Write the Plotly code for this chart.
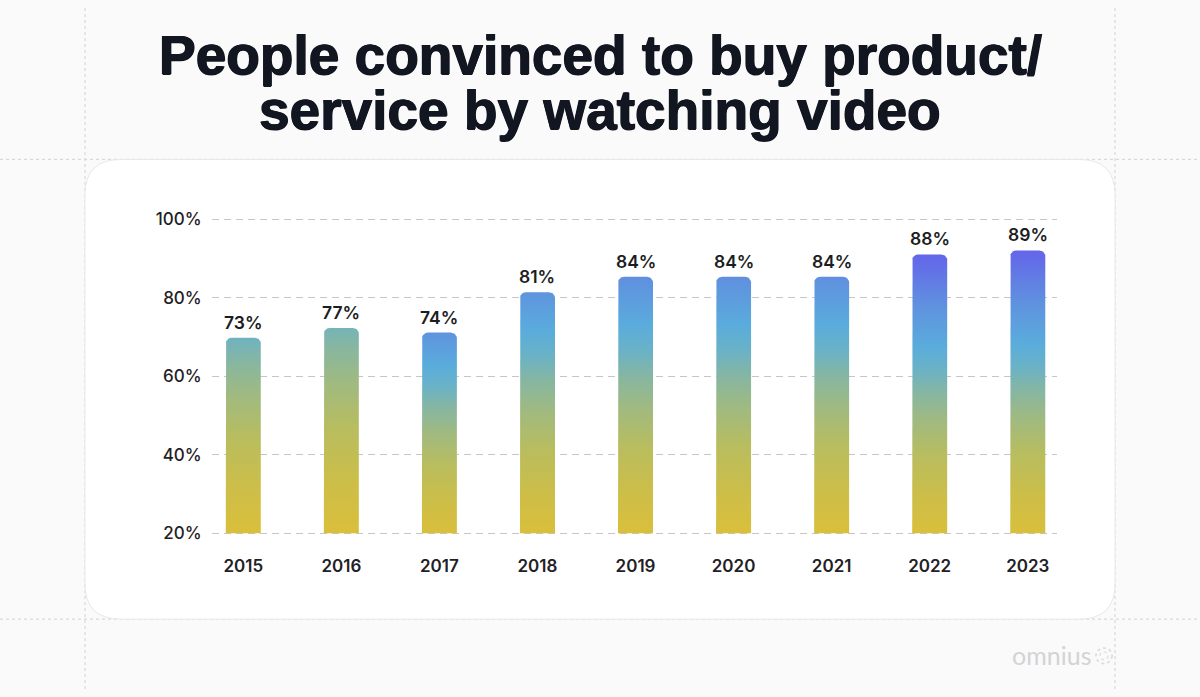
import numpy as np
import plotly.graph_objects as go

# ---------------- data ----------------
years = ["2015", "2016", "2017", "2018", "2019", "2020", "2021", "2022", "2023"]
labels_pct = [73, 77, 74, 81, 84, 84, 84, 88, 89]            # printed values
bar_heights = [69.8, 72.3, 71.1, 81.4, 85.3, 85.3, 85.3, 91.0, 92.0]  # heights as drawn on the axis
y_ticks = [20, 40, 60, 80, 100]
y_tick_text = ["20%", "40%", "60%", "80%", "100%"]

# ---------------- style ----------------
W, H = 1200, 697
BASE = 20
top_frac = [0.58, 0.56, 0.80, 0.80, 0.83, 0.83, 0.83, 1.0, 1.0]  # how far along the gradient each bar top reaches
colorscale = [
    [0.00, "#dcbf38"], [0.15, "#cdbe48"], [0.30, "#b8bd5f"], [0.42, "#a0ba80"],
    [0.52, "#86b6a2"], [0.60, "#6ab2c6"], [0.68, "#5aacdc"], [0.82, "#5f92df"],
    [1.00, "#6465ea"],
]
BAR_W = 0.357
X_RANGE = [-0.322, 8.295]
Y_RANGE = [19.6, 100.4]
PX_PER_Y = 4.021
Y20_PX = 537.7
PLOT_L, PLOT_R = 211.7, 1056.7
PLOT_B = Y20_PX + (20 - Y_RANGE[0]) * PX_PER_Y
PLOT_T = Y20_PX - (Y_RANGE[1] - 20) * PX_PER_Y
px_per_x = (PLOT_R - PLOT_L) / (X_RANGE[1] - X_RANGE[0])
R_PX = 6.0
rx, ry = R_PX / px_per_x, R_PX / PX_PER_Y


def px(x):
    return x / W


def py(y):
    return 1 - y / H


fig = go.Figure()

theta = np.linspace(0, np.pi / 2, 10)
for i, h in enumerate(bar_heights):
    x0, x1 = i - BAR_W / 2, i + BAR_W / 2
    la_x = x0 + rx - rx * np.cos(theta)
    la_y = h - ry + ry * np.sin(theta)
    ra_x = x1 - rx + rx * np.sin(theta)
    ra_y = h - ry + ry * np.cos(theta)
    xs = [x0] + list(la_x) + list(ra_x) + [x1, x0]
    ys = [BASE] + list(la_y) + list(ra_y) + [BASE, BASE]
    stop = BASE + (h - BASE) / top_frac[i]
    fig.add_trace(go.Scatter(
        x=xs, y=ys, mode="lines", fill="toself",
        line=dict(width=0, color="rgba(0,0,0,0)"),
        fillgradient=dict(type="vertical", colorscale=colorscale, start=BASE, stop=stop),
        hoverinfo="skip", showlegend=False,
    ))
    fig.add_annotation(
        x=i, y=h, xref="x", yref="y", text=f"{labels_pct[i]}%",
        showarrow=False, yanchor="bottom", yshift=3,
        font=dict(family="Inter", size=17.5, color="#1b1d22", weight=600),
    )

# ---------------- background, card, dotted guides ----------------
shapes = []
dot = dict(color="#d9d9dc", width=1.2, dash="dot")
for yy in [155, 625.5]:
    shapes.append(dict(type="line", xref="paper", yref="paper", x0=0, x1=1, y0=py(yy), y1=py(yy),
                       line=dot, layer="below"))
for xx in [85, 1115]:
    shapes.append(dict(type="line", xref="paper", yref="paper", x0=px(xx), x1=px(xx), y0=0, y1=1,
                       line=dot, layer="below"))

cx0, cx1, cy0, cy1, cr = 85, 1115, 155, 625.5, 36


def P(x, y):
    return f"{px(x):.5f},{py(y):.5f}"


card_path = (
    f"M {P(cx0 + cr, cy0)} L {P(cx1 - cr, cy0)} Q {P(cx1, cy0)} {P(cx1, cy0 + cr)} "
    f"L {P(cx1, cy1 - cr)} Q {P(cx1, cy1)} {P(cx1 - cr, cy1)} "
    f"L {P(cx0 + cr, cy1)} Q {P(cx0, cy1)} {P(cx0, cy1 - cr)} "
    f"L {P(cx0, cy0 + cr)} Q {P(cx0, cy0)} {P(cx0 + cr, cy0)} Z"
)
shapes.append(dict(type="path", xref="paper", yref="paper", path=card_path,
                   fillcolor="#ffffff", line=dict(color="#e8e8ea", width=1), layer="below"))

# watermark logo
shapes.append(dict(type="circle", xref="paper", yref="paper",
                   x0=px(1096), x1=px(1112), y0=py(671), y1=py(655),
                   line=dict(color="#dadada", width=1.6, dash="dot"), layer="above"))
shapes.append(dict(type="circle", xref="paper", yref="paper",
                   x0=px(1100), x1=px(1108), y0=py(667), y1=py(659),
                   line=dict(color="#e0e0e0", width=1.4, dash="dot"), layer="above"))

fig.update_layout(shapes=shapes)

# ---------------- title ----------------
title_font = dict(family="Liberation Sans", size=55, color="#121620", weight=700,
                  shadow="0.7px 0 0 #121620, -0.7px 0 0 #121620, 0 0.5px 0 #121620")
fig.add_annotation(text="People convinced to buy product/", xref="paper", yref="paper",
                   x=0.5, y=py(48), xanchor="center", yanchor="middle", showarrow=False, font=title_font)
fig.add_annotation(text="service by watching video", xref="paper", yref="paper",
                   x=0.5, y=py(104), xanchor="center", yanchor="middle", showarrow=False, font=title_font)

fig.add_annotation(text="omnius", xref="paper", yref="paper", x=px(1093), y=py(662),
                   xanchor="right", yanchor="middle", showarrow=False,
                   font=dict(family="Lato", size=25, color="#d3d3d5"))

# ---------------- axes ----------------
fig.update_xaxes(
    domain=[px(PLOT_L), px(PLOT_R)], range=X_RANGE, tickvals=list(range(len(years))), ticktext=years,
    showgrid=False, zeroline=False, showline=False, ticks="", ticklabelstandoff=19,
    tickfont=dict(family="Inter", size=17, color="#1f2126", weight=600), fixedrange=True,
)
fig.update_yaxes(
    domain=[py(PLOT_B), py(PLOT_T)], range=Y_RANGE, tickvals=y_ticks, ticktext=y_tick_text,
    showgrid=True, gridcolor="#c6c6c8", gridwidth=1.3, griddash="7px,5px",
    zeroline=False, showline=False, ticks="", ticklabelstandoff=9,
    tickfont=dict(family="Inter", size=17, color="#1f2126", weight=500), fixedrange=True,
)

fig.update_layout(
    width=W, height=H, margin=dict(l=0, r=0, t=0, b=0),
    paper_bgcolor="#fafafa", plot_bgcolor="rgba(0,0,0,0)", showlegend=False,
)

fig.write_html("out.html", config={"displayModeBar": False},
               post_script="document.body.style.margin='0px';document.body.style.padding='0px';")
